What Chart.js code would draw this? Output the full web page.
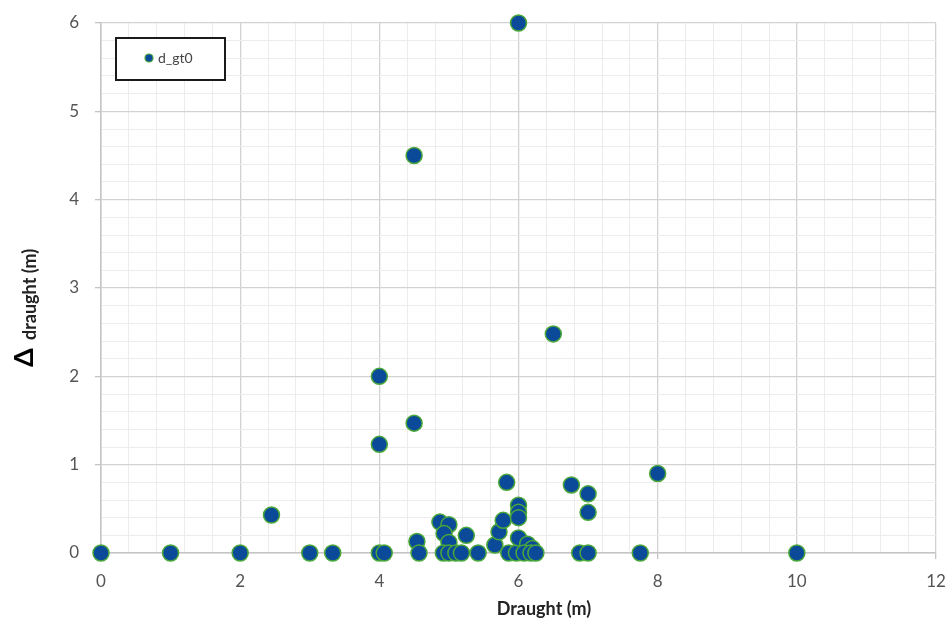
<!DOCTYPE html>
<html>
<head>
<meta charset="utf-8">
<script src="https://cdn.jsdelivr.net/npm/chart.js@4.4.0/dist/chart.umd.min.js"></script>
<style>
  html, body { margin: 0; padding: 0; background: #fff; }
  #wrap { width: 949px; height: 621px; position: relative; }
</style>
</head>
<body>
<div id="wrap"><canvas id="chart" width="949" height="621"></canvas></div>
<script>
// ---- data ----
const seriesLabel = "d_gt0";
const draught = [
  0, 1, 2, 2.45, 3, 3.33, 4, 4.07, 4, 4,
  4.5, 4.5, 4.54, 4.57, 4.87, 5.0, 4.93, 5.0, 4.92, 5.0,
  5.1, 5.18, 5.25, 5.42, 5.66, 5.72, 5.78, 5.83, 5.86, 5.97,
  6.0, 6.0, 6.0, 6.0, 6.13, 6.2, 6.08, 6.18, 6.25, 6.0,
  6.5, 6.76, 7.0, 7.0, 6.88, 7.0, 7.75, 8.0, 10.0
];
const deltaDraught = [
  0, 0, 0, 0.43, 0, 0, 0, 0, 1.23, 2.0,
  1.47, 4.5, 0.13, 0, 0.35, 0.32, 0.22, 0.12, 0, 0,
  0, 0, 0.2, 0, 0.09, 0.24, 0.37, 0.8, 0, 0,
  0.54, 0.46, 0.4, 0.17, 0.1, 0.05, 0, 0, 0, 6.0,
  2.48, 0.77, 0.67, 0.46, 0, 0, 0, 0.9, 0
];
const xMajorLabels = ["0", "2", "4", "6", "8", "10", "12"];
const yMajorLabels = ["0", "1", "2", "3", "4", "5", "6"];

const FONT = "Lato, 'Open Sans', sans-serif";
const pointFill = "#0b4a98";
const pointEdge = "#4aa83a";

const points = draught.map((x, i) => ({ x: x, y: deltaDraught[i] }));

// helpers for major / minor grid
const isMult = (v, m) => Math.abs(v / m - Math.round(v / m)) < 1e-6;
function stepTicks(min, max, step) {
  const out = [];
  const n = Math.round((max - min) / step);
  for (let i = 0; i <= n; i++) out.push({ value: +(min + i * step).toFixed(4) });
  return out;
}

// titles + boxed legend drawn on top
const decorations = {
  id: "decorations",
  afterDraw(chart) {
    const c = chart.ctx;
    c.save();
    // y title: big delta + "draught (m)"
    c.translate(33, 367);
    c.rotate(-Math.PI / 2);
    c.fillStyle = "#000";
    c.textAlign = "left";
    c.textBaseline = "alphabetic";
    c.font = "bold 27px " + FONT;
    c.fillText("\u0394", 0, 0);
    c.font = "bold 18px " + FONT;
    c.fillStyle = "#222";
    c.fillText("draught (m)", 27, 3);
    c.restore();

    // x title
    c.save();
    c.font = "bold 18px " + FONT;
    c.fillStyle = "#222";
    c.textAlign = "center";
    c.textBaseline = "alphabetic";
    c.fillText("Draught (m)", 544, 615);
    c.restore();

    // legend box
    c.save();
    c.fillStyle = "#fff";
    c.fillRect(116, 38, 109, 42);
    c.strokeStyle = "#1a1a1a";
    c.lineWidth = 2;
    c.strokeRect(116, 38, 109, 42);
    c.beginPath();
    c.arc(149, 58, 4, 0, Math.PI * 2);
    c.fillStyle = pointFill;
    c.fill();
    c.strokeStyle = pointEdge;
    c.lineWidth = 1.2;
    c.stroke();
    c.font = "14px " + FONT;
    c.fillStyle = "#444";
    c.textAlign = "left";
    c.textBaseline = "middle";
    c.fillText(chart.data.datasets[0].label, 158, 58);
    c.restore();
  }
};

const gridColor = (major) => (ctx) => {
  if (!ctx.tick) return "#ececec";
  return isMult(ctx.tick.value, major) ? "#d2d2d2" : "#ececec";
};
const tickMarkColor = (major) => (ctx) => {
  if (!ctx.tick) return "rgba(0,0,0,0)";
  return isMult(ctx.tick.value, major) ? "#c4c4c4" : "rgba(0,0,0,0)";
};

new Chart(document.getElementById("chart"), {
  type: "scatter",
  data: {
    datasets: [{
      label: seriesLabel,
      data: points,
      pointRadius: 8,
      pointHoverRadius: 8,
      pointBackgroundColor: pointFill,
      pointBorderColor: pointEdge,
      pointBorderWidth: 1.5,
      clip: false
    }]
  },
  options: {
    responsive: false,
    animation: false,
    layout: { padding: { top: 23, right: 13, left: 0, bottom: 0 } },
    plugins: {
      legend: { display: false },
      tooltip: { enabled: false }
    },
    scales: {
      x: {
        type: "linear",
        min: 0,
        max: 12,
        afterBuildTicks: s => { s.ticks = stepTicks(0, 12, 0.4); },
        afterFit: s => { s.height = 68; s.paddingLeft = 0; s.paddingRight = 0; },
        border: { color: "#c4c4c4", width: 1.5 },
        grid: {
          color: gridColor(2),
          tickColor: tickMarkColor(2),
          tickLength: 6,
          lineWidth: ctx => (ctx.tick && isMult(ctx.tick.value, 2) ? 1.3 : 1)
        },
        ticks: {
          autoSkip: false,
          maxRotation: 0,
          padding: 12,
          color: "#555",
          font: { family: FONT, size: 17 },
          callback: v => (isMult(v, 2) ? xMajorLabels[Math.round(v / 2)] : "")
        }
      },
      y: {
        type: "linear",
        min: 0,
        max: 6,
        afterBuildTicks: s => { s.ticks = stepTicks(0, 6, 0.2); },
        afterFit: s => { s.width = 101; s.paddingTop = 0; s.paddingBottom = 0; },
        border: { color: "#c4c4c4", width: 1.5 },
        grid: {
          color: gridColor(1),
          tickColor: tickMarkColor(1),
          tickLength: 6,
          lineWidth: ctx => (ctx.tick && isMult(ctx.tick.value, 1) ? 1.3 : 1)
        },
        ticks: {
          autoSkip: false,
          padding: 16,
          color: "#555",
          font: { family: FONT, size: 17 },
          callback: v => (isMult(v, 1) ? yMajorLabels[Math.round(v)] : "")
        }
      }
    }
  },
  plugins: [decorations]
});
</script>
</body>
</html>
